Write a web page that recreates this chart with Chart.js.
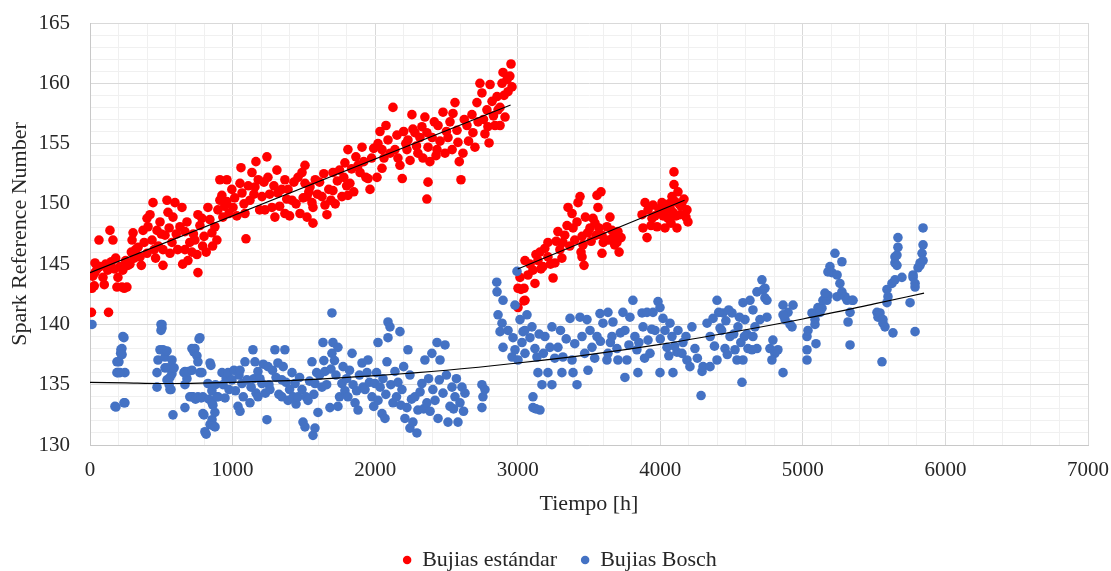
<!DOCTYPE html>
<html>
<head>
<meta charset="utf-8">
<script src="https://cdn.jsdelivr.net/npm/chart.js@4/dist/chart.umd.min.js"></script>
<style>
html,body{margin:0;padding:0;background:#fff;}
canvas{display:block;}
</style>
</head>
<body>
<canvas id="c" width="1111" height="571"></canvas>
<script>
// ---- DATA ----
const seriesNames = ["Bujias estándar", "Bujias Bosch"];
const axisTitles = { x: "Tiempo [h]", y: "Spark Reference Number" };

// Bujías estándar, first run (0 - ~2950 h)
const estandarRun1 = [
[10,141.0],[130,141.0],[14,143.0],[30,143.2],[35,144.3],[35,145.1],[20,144.0],[50,144.6],[63,147.0],[70,144.8],
[91,143.9],[100,143.3],[140,147.8],[161,147.0],[110,145.0],[125,144.5],[150,145.2],[170,144.6],[189,143.1],[196,143.9],
[210,144.8],[224,143.1],[240,143.0],[259,143.1],[266,144.9],[230,144.5],[250,145.3],[180,145.5],[280,145.0],[290,146.0],
[295,147.0],[302,147.6],[310,145.5],[320,146.2],[337,146.4],[351,145.6],[360,144.9],[372,147.8],[380,146.8],[400,148.8],
[400,145.9],[407,148.1],[421,149.1],[435,147.0],[442,150.1],[450,146.2],[460,145.5],[470,147.8],[480,146.5],[491,148.5],
[500,147.5],[512,146.2],[512,144.9],[526,147.4],[540,150.3],[547,149.3],[555,148.0],[561,145.9],[575,146.8],[582,148.9],
[596,150.1],[605,147.5],[615,146.2],[631,148.1],[645,149.7],[650,145.0],[666,147.7],[666,146.2],[680,148.5],[687,145.3],
[700,146.8],[715,146.0],[725,147.5],[736,147.0],[750,145.8],[757,144.3],[757,149.1],[771,148.2],[785,148.8],[790,146.5],
[800,147.3],[815,146.0],[827,149.7],[841,148.7],[855,147.6],[860,146.5],[876,148.1],[890,147.0],[897,149.5],
[911,150.3],[911,152.0],[925,150.7],[932,148.9],[945,149.8],[960,152.0],[960,150.2],[975,149.2],[995,151.2],[1003,149.7],
[1015,150.5],[1030,149.0],[1052,151.7],[1059,153.0],[1066,150.9],[1080,150.0],[1087,149.2],[1094,147.1],[1110,151.5],[1122,150.3],
[1136,152.6],[1150,150.8],[1157,151.4],[1164,153.5],[1180,152.0],[1190,149.5],[1206,150.6],[1220,151.8],[1227,149.5],[1241,153.9],
[1248,152.2],[1260,150.8],[1276,149.7],[1290,151.5],[1297,148.9],[1311,152.8],[1318,150.9],[1330,149.8],[1345,151.2],[1367,152.0],
[1367,149.2],[1380,150.4],[1389,151.2],[1400,149.0],[1417,150.3],[1430,151.8],[1445,150.0],[1459,152.2],[1473,149.2],[1487,152.6],
[1495,150.5],[1508,153.2],[1508,151.7],
[1522,150.6],[1522,148.9],[1535,151.0],[1543,151.4],[1557,150.1],[1564,148.4],[1564,149.7],[1580,152.0],[1595,150.8],[1610,151.8],
[1627,150.6],[1640,152.5],[1648,149.9],[1662,149.1],[1675,151.2],[1690,150.3],[1704,151.1],[1704,152.6],[1720,150.0],[1735,151.9],
[1750,152.8],[1767,150.6],[1780,152.2],[1788,153.4],[1800,151.5],[1809,154.5],[1809,150.7],[1823,151.7],[1835,152.9],[1850,151.0],
[1865,153.9],[1880,153.2],[1894,152.6],[1908,154.7],[1920,153.5],[1935,152.2],[1950,152.1],[1964,151.2],[1975,153.8],[1990,154.6],
[2013,152.2],[2020,155.0],[2034,156.0],[2048,154.5],[2048,152.95],[2062,153.8],[2076,156.5],[2090,155.3],[2105,154.2],[2125,158.0],
[2139,154.5],[2153,155.7],[2160,153.8],[2174,153.2],[2190,152.1],[2200,156.0],[2215,155.0],[2223,154.5],[2230,155.3],[2245,153.6],
[2258,157.4],[2265,156.2],[2279,155.9],[2290,154.8],[2300,154.2],[2314,155.5],[2328,156.4],[2335,153.8],[2349,157.2],[2363,155.9],
[2371,154.7],[2384,153.5],[2371,151.8],[2363,150.4],[2400,155.5],[2415,156.8],[2427,154.0],[2441,156.5],[2434,154.5],[2455,155.2],
[2476,157.6],[2490,154.2],[2500,156.0],[2511,155.5],[2525,156.8],[2540,154.5],[2546,157.5],[2560,158.4],[2574,156.1],[2581,155.1],
[2590,153.5],[2602,152.0],[2616,154.2],[2625,157.0],[2644,156.5],[2655,155.2],[2679,157.4],[2686,155.9],[2700,154.7],[2714,158.4],
[2722,156.8],[2735,160.0],[2749,159.2],[2760,157.0],[2770,155.8],[2784,157.8],[2791,156.4],[2799,155.05],[2806,159.9],[2820,158.5],
[2830,157.3],[2841,156.5],[2855,158.9],[2862,157.8],[2876,156.5],[2876,158.0],[2890,160.0],[2897,160.9],[2904,159.0],[2911,157.2],
[2925,160.3],[2932,159.3],[2945,160.6],[2953,161.6],[2960,159.7]
];

// Bujías estándar, second run (~3000 - ~4200 h)
const estandarRun2 = [
[3002,143.0],[3002,141.4],[3016,143.9],[3023,142.9],[3044,143.0],[3044,141.95],[3051,142.0],[3051,145.3],[3072,144.1],[3086,145.0],
[3107,144.5],[3121,143.4],[3128,145.8],[3142,145.3],[3156,146.0],[3163,144.6],[3177,144.8],[3190,146.3],[3212,146.8],[3212,145.6],
[3230,145.0],[3248,143.85],[3261,145.1],[3270,146.9],[3282,147.7],[3296,146.2],[3310,145.5],[3317,146.8],[3330,147.4],[3346,148.2],
[3353,149.7],[3365,146.5],[3381,149.2],[3388,148.0],[3400,147.0],[3416,148.5],[3423,150.1],[3437,150.6],[3444,146.0],[3451,147.3],
[3451,145.6],[3458,146.6],[3465,144.9],[3475,148.9],[3490,147.6],[3507,148.0],[3515,146.9],[3528,148.8],[3542,148.4],[3549,147.4],
[3556,150.7],[3563,149.7],[3570,148.0],[3584,151.0],[3591,147.4],[3591,145.9],[3600,146.8],[3612,147.0],[3626,148.1],[3640,147.0],
[3647,148.9],[3661,147.8],[3668,147.2],[3680,146.6],[3696,146.8],[3703,147.7],[3711,146.0],[3725,147.2],
[3872,149.1],[3879,148.0],[3893,150.1],[3907,147.2],[3914,149.5],[3935,148.2],[3942,148.8],[3949,149.9],[3963,149.0],[3977,148.1],
[3990,149.6],[3998,149.2],[4012,150.1],[4020,149.0],[4033,148.0],[4040,149.5],[4054,148.8],[4061,150.0],[4068,149.7],[4075,148.4],
[4082,150.6],[4089,149.3],[4096,151.6],[4096,152.65],[4103,150.2],[4110,149.0],[4117,148.0],[4124,151.0],[4131,150.0],[4138,149.1],
[4145,149.8],[4152,150.1],[4166,150.4],[4187,149.5],[4194,148.5],[4180,148.9]
];

// Bujías Bosch (0 - ~5850 h)
const boschPoints = [
[14,140.0],[182,133.15],[245,133.5],[175,133.2],[238,133.5],[189,136.0],[196,136.0],[245,136.0],[210,136.0],[203,136.9],
[189,136.9],[217,137.9],[224,138.0],[231,139.0],[238,138.9],[225,137.5],[215,137.6],
[470,134.8],[470,136.0],[477,137.05],[491,137.9],[498,139.5],[498,140.0],[505,139.7],[505,140.0],[512,137.9],[526,137.3],
[526,136.4],[540,137.8],[540,135.4],[547,136.4],[561,135.6],[561,134.6],[568,134.6],[575,137.05],[575,135.9],[582,132.5],
[590,136.4],[555,135.0],[659,136.0],[666,136.1],[666,135.0],[666,133.1],[680,135.5],[690,136.1],[700,134.0],[715,138.0],
[715,136.2],[715,134.0],[722,134.0],[730,137.7],[736,138.0],[740,133.8],[750,137.4],[757,136.9],[757,134.0],[765,138.8],
[771,138.9],[771,136.0],[780,133.9],[785,136.0],[792,134.0],[792,132.6],[799,132.5],[806,131.1],[815,130.9],[827,135.1],
[834,133.8],[842,136.8],[842,131.7],[848,136.6],[855,134.5],[856,133.5],[856,132.1],[862,133.3],[862,131.6],[876,132.7],
[877,131.5],[880,135.0],[890,134.0],[898,134.0],
[926,136.0],[933,135.0],[947,133.9],[955,135.5],[968,136.0],[975,134.6],[996,135.4],[1010,136.2],[1020,134.5],[1038,133.2],
[1045,135.8],[1052,136.2],[1052,132.8],[1066,135.1],[1075,134.0],[1087,136.9],[1100,135.4],[1122,133.5],[1130,134.8],[1143,137.9],
[1150,135.5],[1157,136.9],[1165,134.3],[1178,136.1],[1178,134.0],[1192,135.5],[1206,135.1],[1215,136.7],[1230,134.3],[1241,132.1],
[1248,136.5],[1255,135.0],[1262,134.6],[1280,136.2],[1297,137.9],[1305,135.6],[1318,136.8],[1325,134.2],[1346,135.4],[1346,134.0],
[1355,136.5],[1367,137.9],[1375,135.2],[1389,133.7],[1400,134.6],[1417,136.0],[1425,134.0],[1438,135.1],[1445,133.4],[1459,134.0],
[1470,135.6],[1487,134.6],[1494,131.9],[1508,131.5],[1515,134.0],[1529,133.7],[1540,135.3],[1557,136.9],[1564,130.8],[1570,134.2],
[1578,135.1],[1578,131.4],[1590,136.0],[1599,132.7],[1610,135.8],[1627,134.8],[1634,138.5],[1640,137.0],[1648,136.1],[1660,135.0],
[1683,133.1],[1690,136.3],[1697,137.6],[1697,140.95],[1704,138.5],[1715,137.0],[1725,135.8],[1739,138.1],[1739,133.2],[1750,134.0],
[1767,135.1],[1775,136.5],[1788,134.5],[1800,135.5],[1809,134.0],[1820,136.2],[1838,137.6],[1845,135.0],[1859,133.5],[1870,134.5],
[1880,132.9],[1890,135.8],[1908,136.8],[1915,134.8],[1929,134.6],[1943,136.0],[1950,137.05],[1960,135.2],[1978,134.0],[1990,133.2],
[1999,135.1],[2010,136.0],[2020,133.7],[2020,138.5],[2035,134.8],[2048,132.6],[2055,135.5],[2069,132.2],[2075,134.2],[2083,136.9],
[2090,138.9],[2090,140.2],[2104,139.8],[2110,135.0],[2125,133.5],[2139,136.1],[2150,134.0],[2160,135.2],[2174,139.4],[2180,133.3],
[2188,134.6],[2200,136.5],[2209,132.2],[2223,133.1],[2230,137.9],[2244,135.8],[2244,131.4],[2255,133.8],[2265,131.9],[2279,134.0],
[2293,131.0],[2300,132.9],[2315,134.4],[2328,135.1],[2340,133.0],[2349,137.05],[2363,133.5],[2375,135.5],[2385,132.8],[2398,137.6],
[2405,134.6],[2420,133.7],[2434,138.5],[2441,132.2],[2450,135.4],[2455,137.05],[2476,134.3],[2490,138.3],[2500,135.8],[2511,131.9],
[2525,133.2],[2539,134.8],[2550,133.0],[2560,134.0],[2570,135.5],[2581,131.9],[2595,133.5],[2609,134.8],[2620,132.8],[2630,134.3],
[2749,135.0],[2756,134.0],[2749,133.1],[2770,134.6],
[2853,143.5],[2855,142.7],[2897,142.0],[2981,141.6],[2995,144.4],[2862,140.8],[2890,140.1],[2876,139.4],[2897,138.1],[2932,139.5],
[2967,138.9],[2981,137.9],[2960,137.3],[3016,140.4],[3037,139.4],[3030,138.5],[3051,137.6],[3002,137.05],[3065,140.8],[3100,139.8],
[3086,138.9],[3121,138.0],[3135,137.3],[3142,136.0],[3170,135.0],[3240,135.0],[3107,134.0],[3107,133.1],[3156,132.9],[3128,133.0],
[3212,136.0],[3191,139.0],[3240,139.8],[3226,138.1],[3282,138.1],[3310,136.0],[3317,137.3],[3367,140.5],[3381,137.05],[3388,136.0],
[3416,135.0],[3437,140.6],[3451,139.0],[3486,140.4],[3507,139.5],[3493,136.2],[3521,138.1],[3556,139.0],[3577,140.9],[3598,140.1],
[3633,141.0],[3626,137.05],[3633,137.6],[3661,139.0],[3668,140.2],[3696,138.0],[3703,137.05],[3738,141.0],[3752,139.5],[3752,135.6],
[3766,137.05],[3787,140.6],[3808,142.0],[3822,139.0],[3836,137.9],[3843,136.0],[3872,140.95],[3879,139.8],[3907,141.0],[3914,138.7],
[3928,137.6],[3949,141.0],[3963,139.5],[3984,141.9],[3998,141.4],[3998,136.0],[4019,140.5],[4033,139.5],[4047,138.1],[4068,140.1],
[4082,139.0],[4089,136.0],[4117,137.7],[4124,139.5],[4152,137.6],[4159,138.5],[4187,137.05],[4208,136.5],[4222,139.8],[4243,138.0],
[3050,139.5],[3150,139.2],[3180,137.6],[3260,137.2],[3300,139.5],[3340,138.8],[3400,138.4],[3470,137.6],[3540,137.2],[3580,138.6],
[3650,138.5],[3720,139.3],[3780,138.3],[3850,138.5],[3890,137.2],[3940,139.6],[4000,138.8],[4060,137.4],[4100,138.2],[4180,139.0],
[4260,137.2],
[4286,134.1],[4293,136.1],[4300,136.5],[4328,140.1],[4349,136.5],[4398,142.0],[4398,137.05],[4419,139.7],[4440,140.95],[4454,138.0],
[4489,139.0],[4503,140.95],[4524,137.9],[4538,137.05],[4545,139.8],[4573,135.2],[4580,141.8],[4594,140.4],[4608,139.2],[4615,138.0],
[4629,142.0],[4650,141.2],[4664,139.8],[4678,138.0],[4678,142.7],[4713,143.7],[4720,142.85],[4734,142.2],[4748,140.6],[4769,138.0],
[4790,138.7],[4804,137.6],[4783,137.05],[4861,136.0],[4861,141.6],[4875,140.4],[4896,141.0],[4931,141.6],[4924,139.8],[4734,143.0],
[4748,142.0],[4699,140.4],[4643,137.9],[4580,137.05],[4650,139.0],[4825,137.9],[4861,140.8],[4910,140.0],
[4350,139.0],[4370,140.5],[4380,138.2],[4410,141.0],[4430,139.5],[4460,140.3],[4470,137.5],[4480,141.2],[4515,139.2],[4555,140.6],
[4565,138.5],[4590,139.0],
[5029,137.05],[5029,137.9],[5029,139.0],[5036,139.5],[5064,140.95],[5085,140.4],[5106,141.4],[5134,141.35],[5141,142.0],[5169,142.0],
[5176,142.4],[5190,144.8],[5176,144.35],[5204,144.3],[5225,145.9],[5240,144.1],[5240,142.3],[5260,143.4],[5274,145.2],[5274,142.7],
[5296,142.3],[5310,142.0],[5345,142.0],[5331,141.0],[5317,140.2],[5331,138.3],[5085,140.0],[5092,138.4],[5352,142.0],[5120,141.0],
[5155,142.6],
[5520,141.0],[5527,140.6],[5541,140.95],[5562,140.4],[5562,140.1],[5576,139.8],[5555,136.9],[5590,141.8],[5597,142.3],[5590,142.9],
[5625,143.4],[5632,139.3],[5646,143.7],[5646,145.1],[5646,145.6],[5660,145.75],[5660,144.9],[5667,146.4],[5667,147.2],[5695,143.9],
[5752,141.8],[5773,144.1],[5773,143.9],[5787,143.4],[5787,143.1],[5787,139.4],[5808,144.7],[5822,145.1],[5822,144.9],[5836,145.9],
[5843,146.6],[5843,148.0],[5843,145.3]
];

// Trend lines
const trendEstandar1 = [[0,144.3],[2950,158.2]];
const trendEstandar2 = [[3000,144.6],[4170,150.3]];
const trendBosch = [[0,135.2],[250,135.15],[500,135.1],[1000,135.2],[1500,135.4],[2000,135.75],[2500,136.2],[3000,136.8],
  [3500,137.5],[4000,138.35],[4500,139.35],[5000,140.45],[5500,141.7],[5850,142.6]];

// axis ranges / ticks
const xTicks = { min: 0, max: 7000, step: 200, labelEvery: 1000 };
const yTicks = { min: 130, max: 165, step: 1, labelEvery: 5 };

// ---- CHART ----
const toXY = arr => arr.map(p => ({x: p[0], y: p[1]}));
const FONT = "'Liberation Serif', 'Times New Roman', serif";
const TEXT = '#262626';

const legendFit = {
  id: 'legendFit',
  beforeLayout(chart) {
    const lg = chart.legend;
    if (lg && !lg._patched) {
      const orig = lg.fit;
      lg.fit = function () { orig.call(this); this.height = 46; };
      lg._patched = true;
    }
  },
  afterLayout(chart) {
    const lg = chart.legend;
    if (lg) { lg.left += 16; lg.right += 16; }
  }
};

const trendStyle = {
  showLine: true, pointRadius: 0, pointHoverRadius: 0, borderColor: '#000000',
  borderWidth: 1.2, backgroundColor: '#000000', fill: false, order: 0
};

new Chart(document.getElementById('c'), {
  type: 'scatter',
  data: {
    datasets: [
      { label: seriesNames[0], data: toXY(estandarRun1.concat(estandarRun2)), backgroundColor: '#FF0000',
        borderWidth: 0, pointRadius: 4.8, pointHoverRadius: 4.8, order: 2 },
      { label: seriesNames[1], data: toXY(boschPoints), backgroundColor: '#4472C4',
        borderWidth: 0, pointRadius: 4.8, pointHoverRadius: 4.8, order: 1 },
      Object.assign({ label: 't1', data: toXY(trendEstandar1) }, trendStyle),
      Object.assign({ label: 't2', data: toXY(trendEstandar2) }, trendStyle),
      Object.assign({ label: 't3', data: toXY(trendBosch), cubicInterpolationMode: 'monotone' }, trendStyle)
    ]
  },
  options: {
    responsive: false,
    animation: false,
    devicePixelRatio: 1,
    layout: { autoPadding: false, padding: { left: 0, right: 23, top: 23, bottom: 0 } },
    plugins: {
      tooltip: { enabled: false },
      legend: {
        position: 'bottom',
        labels: {
          usePointStyle: true, pointStyle: 'circle', boxWidth: 8, boxHeight: 6,
          padding: 24, color: TEXT, font: { family: FONT, size: 22 },
          filter: item => item.datasetIndex < 2,
          sort: (a, b) => a.datasetIndex - b.datasetIndex
        }
      }
    },
    scales: {
      x: {
        type: 'linear', min: xTicks.min, max: xTicks.max,
        afterFit: s => { s.height = 80; s.paddingLeft = 0; s.paddingRight = 0; },
        ticks: {
          stepSize: xTicks.step, autoSkip: false, maxRotation: 0, padding: 13,
          color: TEXT, font: { family: FONT, size: 21 },
          callback: v => (v % xTicks.labelEvery === 0 ? String(v) : '')
        },
        grid: {
          drawTicks: false,
          color: c => (c.tick && c.tick.value % xTicks.labelEvery === 0 ? '#d9d9d9' : '#f0f0f0'),
          lineWidth: 1
        },
        border: { color: '#c8c8c8' },
        title: { display: true, text: axisTitles.x, color: TEXT, font: { family: FONT, size: 22 },
                 padding: { top: 0, bottom: 8 } }
      },
      y: {
        type: 'linear', min: yTicks.min, max: yTicks.max,
        afterFit: s => { s.width = 90; s.paddingTop = 0; s.paddingBottom = 0; },
        ticks: {
          stepSize: yTicks.step, autoSkip: false, padding: 20,
          color: TEXT, font: { family: FONT, size: 21 },
          callback: v => (v % yTicks.labelEvery === 0 ? String(v) : '')
        },
        grid: {
          drawTicks: false,
          color: c => (c.tick && c.tick.value % yTicks.labelEvery === 0 ? '#d9d9d9' : '#f0f0f0'),
          lineWidth: 1
        },
        border: { color: '#c8c8c8' },
        title: { display: true, text: axisTitles.y, color: TEXT, font: { family: FONT, size: 22 },
                 padding: { top: 7, bottom: 0 } }
      }
    }
  },
  plugins: [legendFit]
});
</script>
</body>
</html>
